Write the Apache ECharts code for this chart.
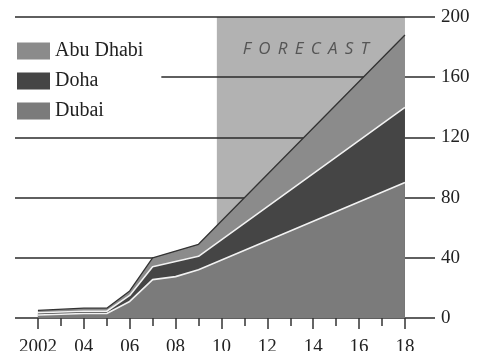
<!DOCTYPE html>
<html>
<head>
<meta charset="utf-8">
<script src="https://cdn.jsdelivr.net/npm/echarts@6/dist/echarts.min.js"></script>
<style>
html,body{margin:0;padding:0;background:#fff;}
#chart{width:484px;height:351px;}
</style>
</head>
<body>
<div id="chart"></div>
<script>
// ---- data ----
var years = [2002, 2004, 2005, 2006, 2007, 2008, 2009, 2018];
var dubai = [2, 3, 3, 11, 25.5, 27.5, 32, 90];
var doha = [1.5, 1.5, 1.5, 4, 8.5, 10, 9, 50];
var abuDhabi = [1.5, 2, 2, 3, 6, 7, 8, 48];
var legendOrder = ['Abu Dhabi', 'Doha', 'Dubai'];
var majorTicks = [2002, 2004, 2006, 2008, 2010, 2012, 2014, 2016, 2018];
var minorTicks = [2003, 2005, 2007, 2009, 2011, 2013, 2015, 2017];
var forecastStart = 2009.8;
var forecastEnd = 2018;
var forecastLabel = ['F', 'O', 'R', 'E', 'C', 'A', 'S', 'T'].join(' \u2009');

// cumulative tops of the stacked bands (built from the arrays above)
var topDubai = dubai.slice();
var topDoha = dubai.map(function (v, i) { return v + doha[i]; });
var topAbu = topDoha.map(function (v, i) { return v + abuDhabi[i]; });
function pairs(vals) { return years.map(function (y, i) { return [y, vals[i]]; }); }

var serif = 'Liberation Serif';
var chart = echarts.init(document.getElementById('chart'), null, {renderer: 'canvas'});
var axisCommon = {
  type: 'value', min: 2001, max: 2019.31, position: 'bottom',
  axisLine: {show: false}, splitLine: {show: false}
};
chart.setOption({
  animation: false,
  grid: {left: 15, right: 49, top: 17, bottom: 33, containLabel: false, outerBoundsMode: 'none'},
  legend: {
    data: legendOrder,
    orient: 'vertical',
    left: 15, top: 38,
    padding: [3, 18, 3, 2],
    backgroundColor: '#fff',
    icon: 'rect',
    itemWidth: 33, itemHeight: 17, itemGap: 10, itemTextGap: 9,
    itemStyle: {borderWidth: 0},
    textStyle: {fontFamily: serif, fontSize: 20, color: '#222', lineHeight: 18},
    z: 10
  },
  xAxis: [
    Object.assign({}, axisCommon, {
      z: 1.5,
      axisTick: {show: true, customValues: majorTicks, length: 11, lineStyle: {color: '#333', width: 1.5}},
      axisLabel: {
        show: true, customValues: majorTicks, margin: 20,
        fontFamily: serif, fontSize: 19, color: '#222',
        formatter: function (v) { return v === 2002 ? '2002' : String(v % 100).padStart(2, '0'); }
      }
    }),
    Object.assign({}, axisCommon, {
      z: 1.5,
      axisTick: {show: true, customValues: minorTicks, length: 8, lineStyle: {color: '#333', width: 1.5}},
      axisLabel: {show: false}
    })
  ],
  yAxis: {
    type: 'value', min: 0, max: 200, interval: 40, position: 'right', z: 1.5,
    axisLine: {show: false}, axisTick: {show: false},
    splitLine: {show: true, lineStyle: {color: '#2a2a2a', width: 1.6}},
    axisLabel: {margin: 6, fontFamily: serif, fontSize: 19, color: '#222', padding: [3, 0, 0, 0]}
  },
  series: [
    {
      name: 'forecast', type: 'line', data: [], z: 0.5, silent: true,
      markArea: {
        silent: true,
        itemStyle: {color: '#b2b2b2'},
        label: {
          show: true, position: 'insideTop', distance: 24, offset: [-5, 0],
          formatter: forecastLabel,
          fontFamily: 'Open Sans', fontStyle: 'italic', fontSize: 17, color: '#555'
        },
        data: [[{xAxis: forecastStart, yAxis: 200}, {xAxis: forecastEnd, yAxis: 0}]]
      }
    },
    {
      name: 'Abu Dhabi', type: 'line', data: pairs(topAbu), z: 2.5,
      color: '#8b8b8b', symbol: 'none',
      lineStyle: {color: '#333', width: 1.3},
      areaStyle: {color: '#8b8b8b', opacity: 1}
    },
    {
      name: 'Doha', type: 'line', data: pairs(topDoha), z: 3,
      color: '#454545', symbol: 'none',
      lineStyle: {color: '#f2f2f2', width: 1.6},
      areaStyle: {color: '#454545', opacity: 1}
    },
    {
      name: 'Dubai', type: 'line', data: pairs(topDubai), z: 3.5,
      color: '#7b7b7b', symbol: 'none',
      lineStyle: {color: '#f2f2f2', width: 1.6},
      areaStyle: {color: '#7b7b7b', opacity: 1}
    }
  ]
});
</script>
</body>
</html>
